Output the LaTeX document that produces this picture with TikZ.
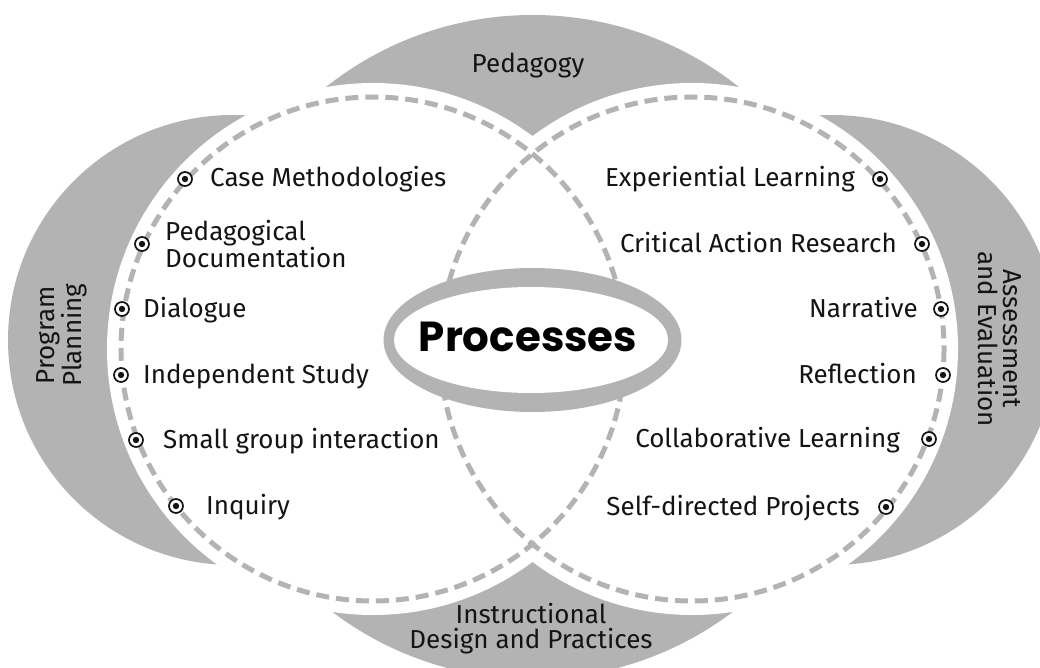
\documentclass[tikz,border=0pt]{standalone}
\usepackage{fontspec}
\setmainfont{Fira Sans}
\newfontfamily\headfont{Poppins}
\definecolor{lensgray}{RGB}{179,179,179}
\definecolor{ink}{RGB}{20,20,20}

\tikzset{
	item/.style={inner sep=0pt, text=ink, font=\fontsize{26}{25}\selectfont},
	area/.style={inner sep=0pt, text=ink, align=center, font=\fontsize{26}{25}\selectfont},
	bullet/.style={circle, draw=ink, fill=white, line width=1.7pt, inner sep=0pt, minimum size=14pt},
	ring/.style={draw=lensgray, dash pattern=on 13pt off 7pt, line width=5pt}
}

\begin{document}
\begin{tikzpicture}[x=1pt, y=-1pt]
		\useasboundingbox (0,0) rectangle (1040,668);
		\clip (0,0) rectangle (1040,668);
		% gray crescents
		\fill[lensgray] (532.5,347) circle (332);
		\fill[lensgray] (233,340) circle (225);
		\fill[lensgray] (832,340) circle (225);
		% the two white circles
		\fill[white] (373,349) circle (266);
		\fill[white] (692,349) circle (266);
		\draw[ring] (373,349) circle (252);
		\draw[ring] (692,349) circle (252);
		% centre ring
		\fill[lensgray] (532.5,340) ellipse (149 and 72);
		\fill[white] (531,340) ellipse (137 and 53);
		\node[inner sep=0pt, font=\headfont\bfseries\fontsize{42}{42}\selectfont] (processes) at (528,337) {Processes};
		% items of the left circle
		\foreach \bx/\by/\tx/\txt [count=\n] in {185/179/210/Case Methodologies, 122/309/143/Dialogue, 121/375/143/Independent Study, 136/440/163/Small group interaction, 176/506/206/Inquiry}
		{
			\node[bullet] (lb\n) at (\bx,\by) {};
			\fill[ink] (lb\n) circle (3.2);
			\node[item, anchor=base west] (lt\n) at (\tx,\by+8) {\txt};
		}
		\node[bullet] (lb0) at (142,244) {};
		\fill[ink] (lb0) circle (3.2);
		\node[item, align=left, anchor=west] (lt0) at (165,244) {Pedagogical\\Documentation};
		% items of the right circle
		\foreach \bx/\by/\tx/\txt [count=\n] in {880/179/855/Experiential Learning, 922/244/897/Critical Action Research, 941/309/918/Narrative, 943/375/917/Reflection, 929/439/900/Collaborative Learning, 886/507/860/Self-directed Projects}
		{
			\node[bullet] (rb\n) at (\bx,\by) {};
			\fill[ink] (rb\n) circle (3.2);
			\node[item, anchor=base east] (rt\n) at (\tx,\by+8) {\txt};
		}
		% labels of the crescents
		\node[area] (pedagogy) at (528,66) {Pedagogy};
		\node[area, rotate=90] (planning) at (62,335) {Program\\Planning};
		\node[area, rotate=-90] (assessment) at (1000,339) {Assessment\\and Evaluation};
		\node[area] (design) at (531,629) {Instructional\\Design and Practices};
	\end{tikzpicture}
\end{document}
